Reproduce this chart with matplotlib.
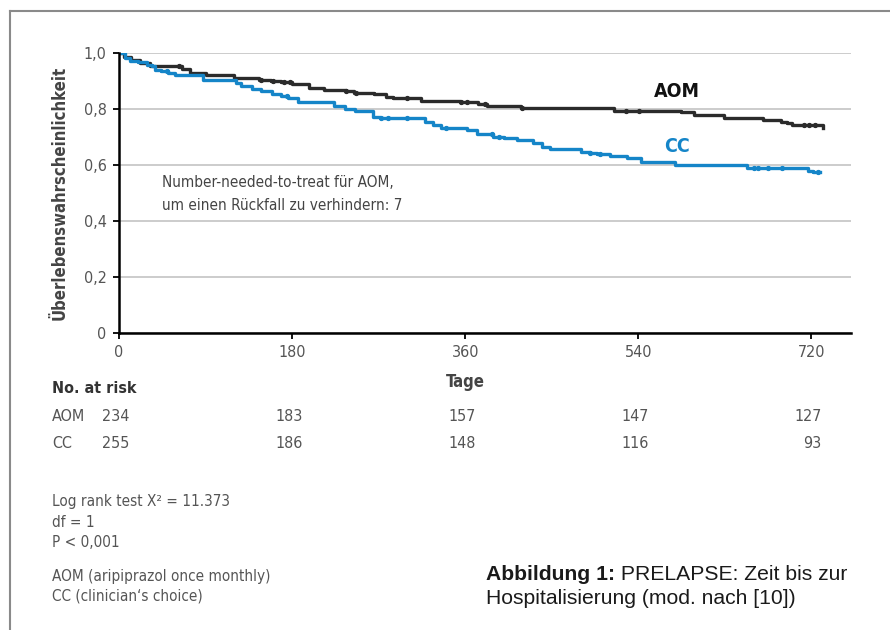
import numpy as np
import matplotlib
matplotlib.use("Agg")
import matplotlib.pyplot as plt
from matplotlib import font_manager
from matplotlib.lines import Line2D

# pick a narrow font if there is one
names = set(f.name for f in font_manager.fontManager.ttflist)
narrow = "DejaVu Sans"
for cand in ["Liberation Sans Narrow", "DejaVu Sans Condensed"]:
    if cand in names:
        narrow = cand
        break
plt.rcParams['font.family'] = [narrow, 'DejaVu Sans']
plt.rcParams['font.stretch'] = 'condensed'

# Kaplan-Meier steps (time in days, survival after step)
aom_t = [0, 5, 12, 22, 32, 66, 74, 90, 120, 146, 158, 168, 180, 198, 213, 236, 244,
         265, 278, 285, 314, 355, 373, 383, 418, 515, 584, 598, 629, 670, 688, 695, 700, 732]
aom_s = [1.0, 0.985, 0.975, 0.966, 0.955, 0.945, 0.930, 0.922, 0.912, 0.905, 0.900, 0.896,
         0.890, 0.876, 0.870, 0.866, 0.858, 0.853, 0.845, 0.839, 0.830, 0.825, 0.818, 0.812,
         0.803, 0.795, 0.789, 0.779, 0.770, 0.761, 0.755, 0.749, 0.743, 0.734]

cc_t = [0, 6, 11, 20, 29, 34, 37, 44, 51, 58, 87, 122, 127, 138, 148, 159, 169, 176, 186,
        224, 235, 245, 264, 271, 318, 327, 335, 362, 372, 389, 400, 414, 431, 440, 448, 480,
        490, 497, 511, 528, 543, 578, 653, 717, 722, 729]
cc_s = [1.0, 0.983, 0.974, 0.969, 0.959, 0.953, 0.941, 0.935, 0.929, 0.921, 0.906, 0.894,
        0.882, 0.874, 0.864, 0.856, 0.846, 0.840, 0.825, 0.810, 0.802, 0.793, 0.773, 0.768,
        0.753, 0.743, 0.732, 0.726, 0.710, 0.702, 0.696, 0.688, 0.678, 0.666, 0.656, 0.648,
        0.644, 0.638, 0.632, 0.627, 0.612, 0.600, 0.588, 0.579, 0.574, 0.574]

aom_cens = [62, 148, 160, 172, 178, 236, 246, 300, 356, 362, 381, 419, 527, 541, 712, 718, 724]
cc_cens = [50, 175, 272, 280, 300, 340, 388, 395, 490, 500, 660, 665, 675, 690, 727]

risk_days = [0, 180, 360, 540, 720]
risk_aom = [234, 183, 157, 147, 127]
risk_cc = [255, 186, 148, 116, 93]

yticks = [0, 0.2, 0.4, 0.6, 0.8, 1.0]
ylabels = ['0', '0,2', '0,4', '0,6', '0,8', '1,0']

W, H = 890, 630
blue = '#1585c8'
dark = '#2b2b2b'
grey = '#555555'


def fx(px):
    return px / W


def fy(py):
    return 1 - py / H


def surv_at(t, times, surv):
    i = np.searchsorted(times, t, side='right') - 1
    return np.asarray(surv)[i]


fig = plt.figure(figsize=(W / 100, H / 100), dpi=100)
ax = fig.add_axes([fx(119), fy(332.7), fx(850.7) - fx(119), fy(53.3) - fy(332.7)])

# curves
ax.step(aom_t, aom_s, where='post', color=dark, lw=2.4, zorder=3)
ax.plot(aom_cens, surv_at(aom_cens, aom_t, aom_s), 'o', color=dark, ms=2.8, zorder=3)
ax.step(cc_t, cc_s, where='post', color=blue, lw=2.4, zorder=4)
ax.plot(cc_cens, surv_at(cc_cens, cc_t, cc_s), 'o', color=blue, ms=2.8, zorder=4)

ax.set_xlim(0, 761)
ax.set_ylim(0, 1.0)
ax.set_xticks(risk_days)
ax.set_yticks(yticks)
ax.set_yticklabels(ylabels)
ax.tick_params(axis='both', length=4, width=1.3, color='black', labelcolor=grey,
               labelsize=11.5, pad=5)
for side in ['top', 'right']:
    ax.spines[side].set_visible(False)
for side in ['left', 'bottom']:
    ax.spines[side].set_linewidth(1.8)
    ax.spines[side].set_color('black')
ax.grid(axis='y', color='#c8c8c8', lw=1.3)
ax.set_axisbelow(True)
for sp in ax.spines.values():
    sp.set_zorder(5)

ax.set_ylabel('Überlebenswahrscheinlichkeit', fontsize=12, fontweight='bold', color='#444',
              va='center')
ax.yaxis.set_label_coords(-0.0806, 0.5)

ax.text(580, 0.863, 'AOM', fontsize=14, fontweight='bold', color='#111', ha='center', va='center')
ax.text(580, 0.666, 'CC', fontsize=14, fontweight='bold', color=blue, ha='center', va='center')
ax.text(44.4, 0.537, 'Number-needed-to-treat für AOM,', fontsize=11, color='#444', va='center')
ax.text(44.4, 0.457, 'um einen Rückfall zu verhindern: 7', fontsize=11, color='#444', va='center')

# x label under the 360 tick
ax.annotate('Tage', xy=(360, fy(381.7)), xycoords=('data', 'figure fraction'), ha='center',
            va='center', fontsize=12, fontweight='bold', color='#444', annotation_clip=False)

# number at risk table
fig.text(fx(52), fy(388.3), 'No. at risk', fontsize=11.5, fontweight='bold', color='#333', va='center')
for name, row, ypx in [('AOM', risk_aom, 416.7), ('CC', risk_cc, 443.3)]:
    fig.text(fx(52), fy(ypx), name, fontsize=11.5, color=grey, va='center')
    for d, n in zip(risk_days, row):
        ax.annotate(str(n), xy=(d, fy(ypx)), xycoords=('data', 'figure fraction'),
                    xytext=(10.5, 0), textcoords='offset pixels', ha='right', va='center',
                    fontsize=11.5, color=grey, annotation_clip=False)

notes = [('Log rank test X² = 11.373', 501.7), ('df = 1', 522.7), ('P < 0,001', 542.7),
         ('AOM (aripiprazol once monthly)', 576.7), ('CC (clinician‘s choice)', 596)]
for txt, ypx in notes:
    fig.text(fx(52), fy(ypx), txt, fontsize=11, color=grey, va='center')

# caption, bold lead-in then regular text
cap_font = 'Liberation Sans'
cap_size = 15.2
t1 = fig.text(fx(486), fy(580), 'Abbildung 1:', fontsize=cap_size, fontweight='bold',
              family=cap_font, stretch='normal', color='#1a1a1a', va='baseline')
r = fig.canvas.get_renderer()
bb = t1.get_window_extent(r)
fig.text(bb.x1 / W, fy(580), ' PRELAPSE: Zeit bis zur', fontsize=cap_size, family=cap_font,
         stretch='normal', color='#1a1a1a', va='baseline')
fig.text(fx(486), fy(604), 'Hospitalisierung (mod. nach [10])', fontsize=cap_size, family=cap_font,
         stretch='normal', color='#1a1a1a', va='baseline')

# frame (cut off at right and bottom)
fig.add_artist(Line2D([fx(10), fx(10)], [0, fy(10.5)], transform=fig.transFigure, color='#8a8a8a', lw=1.5))
fig.add_artist(Line2D([fx(10), 1], [fy(10.5), fy(10.5)], transform=fig.transFigure, color='#8a8a8a', lw=1.5))

fig.savefig('out.png', dpi=100)
